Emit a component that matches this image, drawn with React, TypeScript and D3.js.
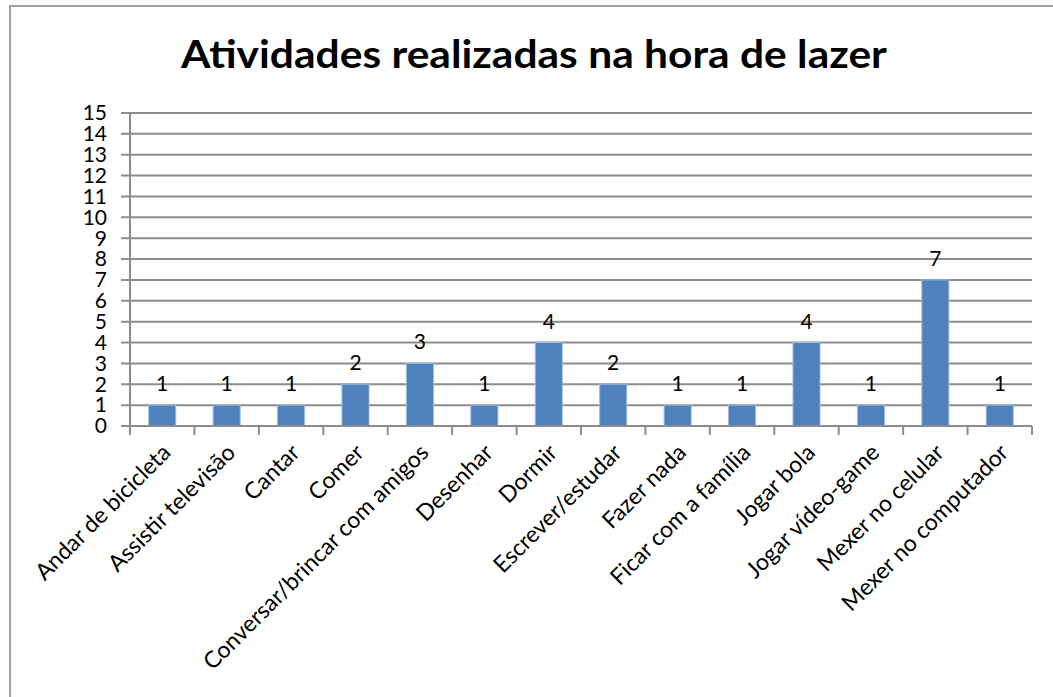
import React from 'react';
import { scaleBand, scaleLinear, range } from 'd3';

const categories: Array<string> = [
  'Andar de bicicleta',
  'Assistir televisão',
  'Cantar',
  'Comer',
  'Conversar/brincar com amigos',
  'Desenhar',
  'Dormir',
  'Escrever/estudar',
  'Fazer nada',
  'Ficar com a família',
  'Jogar bola',
  'Jogar vídeo-game',
  'Mexer no celular',
  'Mexer no computador',
];
const values: Array<number> = [1, 1, 1, 2, 3, 1, 4, 2, 1, 1, 4, 1, 7, 1];
const yTicks: Array<number> = range(0, 16);
const title = 'Atividades realizadas na hora de lazer';

const WIDTH = 1053;
const HEIGHT = 697;
const MARGIN = { TOP: 113, BOTTOM: 271, LEFT: 130, RIGHT: 21 };
const FONT = 'Lato, "Open Sans", sans-serif';
const GRID = '#8c8c8c';
const BAR = '#4f81bd';

export default function App(): JSX.Element {
  const plotW = WIDTH - MARGIN.LEFT - MARGIN.RIGHT;
  const plotH = HEIGHT - MARGIN.TOP - MARGIN.BOTTOM;

  const xScale = scaleBand<string>()
    .domain(categories)
    .range([0, plotW])
    .paddingInner(0.58)
    .paddingOuter(0.29);
  const yScale = scaleLinear().domain([0, 15]).range([plotH, 0]);
  const step = plotW / categories.length;

  return (
    <svg
      width={WIDTH}
      height={HEIGHT}
      style={{ position: 'absolute', left: 0, top: 0, background: '#fff' }}
      fontFamily={FONT}
    >
      {/* chart frame, runs off the right and bottom edges */}
      <rect x={10} y={6} width={WIDTH + 20} height={HEIGHT + 20} fill="#fff" stroke="#a0a0a0" strokeWidth={2} />

      <text x={534} y={68} textAnchor="middle" fontSize={39} fontWeight="bold" textLength={706} lengthAdjust="spacingAndGlyphs">
        {title}
      </text>

      <g transform={`translate(${MARGIN.LEFT}, ${MARGIN.TOP})`}>
        {yTicks.map((t) => (
          <g key={t}>
            {t > 0 && (
              <line x1={-9} x2={plotW} y1={yScale(t)} y2={yScale(t)} stroke={GRID} strokeWidth={2} />
            )}
            <text x={-23} y={yScale(t)} dy="0.35em" textAnchor="end" fontSize={21}>
              {t}
            </text>
          </g>
        ))}

        {/* value axis */}
        <line x1={0} x2={0} y1={0} y2={plotH} stroke={GRID} strokeWidth={2} />

        {categories.map((c, i) => {
          const x = xScale(c) as number;
          const bw = xScale.bandwidth();
          const cx = x + bw / 2;
          return (
            <g key={c}>
              <rect
                x={x}
                y={yScale(values[i])}
                width={bw}
                height={plotH - yScale(values[i])}
                fill={BAR}
                stroke="#9dbbe0"
                strokeWidth={1}
              />
              <text x={cx} y={yScale(values[i]) - 14} textAnchor="middle" fontSize={21}>
                {values[i]}
              </text>
              <text
                transform={`translate(${cx + 10}, ${plotH + 28}) rotate(-45)`}
                textAnchor="end"
                fontSize={23}
              >
                {c}
              </text>
            </g>
          );
        })}

        {/* category axis with tick marks between bands */}
        <line x1={-9} x2={plotW} y1={plotH} y2={plotH} stroke={GRID} strokeWidth={2} />
        {range(0, categories.length + 1).map((k) => (
          <line key={k} x1={k * step} x2={k * step} y1={plotH} y2={plotH + 9} stroke={GRID} strokeWidth={2} />
        ))}
      </g>
    </svg>
  );
}
